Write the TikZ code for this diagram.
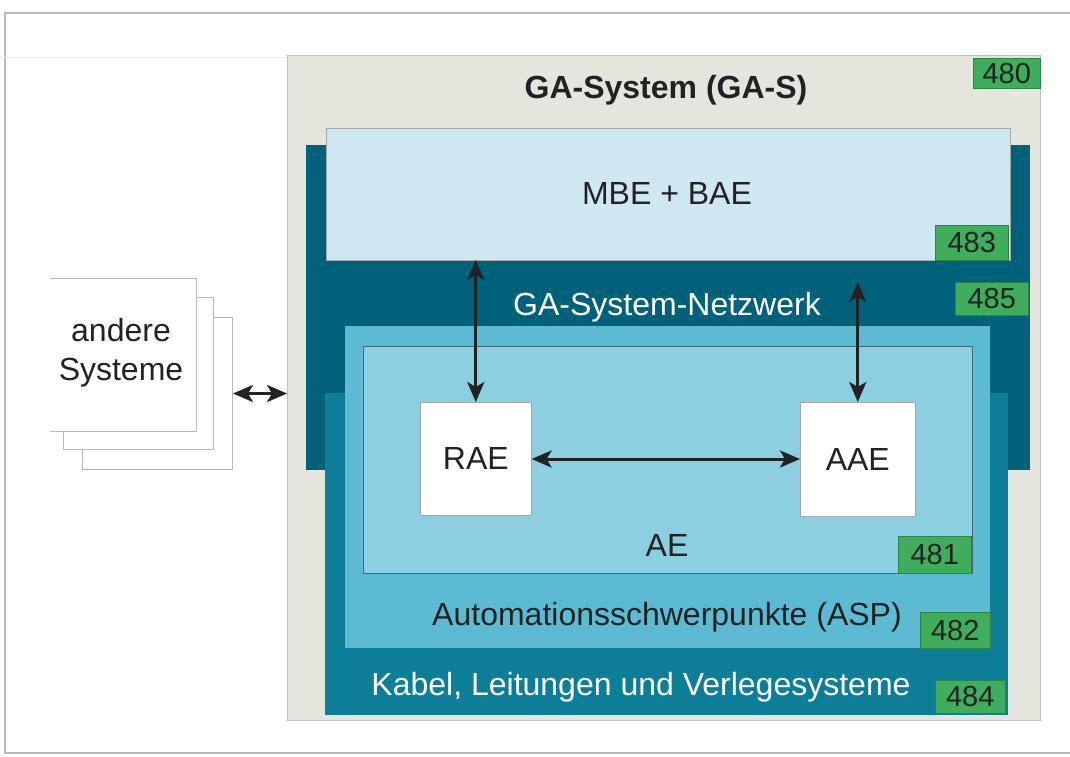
\documentclass[tikz,border=0pt]{standalone}
\usepackage{fontspec}
\setmainfont{Liberation Sans}
\usetikzlibrary{arrows.meta}
\definecolor{gasbg}{HTML}{E4E6DE}
\definecolor{netz}{HTML}{00617A}
\definecolor{kabel}{HTML}{0D7E98}
\definecolor{asp}{HTML}{5CBAD3}
\definecolor{ae}{HTML}{8CCFE1}
\definecolor{mbe}{HTML}{CDE8F1}
\definecolor{tagfill}{HTML}{3FAE5C}
\definecolor{tagline}{HTML}{2C8444}
\definecolor{txt}{HTML}{222222}
\definecolor{frame}{HTML}{B8B8B8}
\begin{document}
\begin{tikzpicture}[x=1pt,y=-1pt,
  layer/.style={anchor=north west, inner sep=0pt, outer sep=0pt, line width=0.6pt},
  tag/.style={anchor=north west, inner sep=0pt, fill=tagfill, draw=tagline, line width=0.6pt,
    font=\fontsize{29}{31}\selectfont, text=txt},
  lbl/.style={font=\fontsize{32}{36}\selectfont, text=txt},
  wlbl/.style={font=\fontsize{32}{36}\selectfont, text=white},
  whitebox/.style={anchor=north west, inner sep=0pt, fill=white, draw=gray!70, line width=0.6pt},
  sheet/.style={anchor=north west, inner sep=0pt, fill=white, draw=frame, line width=1pt},
  arr/.style={{Stealth[length=20pt,width=17pt,inset=5pt]}-{Stealth[length=20pt,width=17pt,inset=5pt]}, line width=3pt, draw=txt}
]
\useasboundingbox (0,0) rectangle (1070,756);
\fill[white] (0,0) rectangle (1070,756);
% outer frame
\draw[frame, line width=1.2pt] (1070,13) -- (5,13) -- (5,753) -- (1070,753);
\draw[orange!20, line width=1pt] (0,57) -- (287,57);

% GA-System
\node[layer, fill=gasbg, draw=gray!50, minimum width=753, minimum height=665] (gas) at (287,55) {};
\node[lbl, font=\bfseries\fontsize{32}{36}\selectfont] (gastitle) at (666,90) {GA-System (GA-S)};
\node[tag, minimum width=67, minimum height=30] (t480) at (973,58) {480};

% Netzwerk
\node[layer, fill=netz, minimum width=724, minimum height=325] (netz) at (306,145) {};
% Kabel
\node[layer, fill=kabel, minimum width=683, minimum height=322] (kab) at (325,393) {};
% MBE
\node[layer, fill=mbe, draw=gray!70, minimum width=684, minimum height=132] (mbe) at (326,128) {};
\node[lbl] (mbetxt) at (667,193) {MBE + BAE};
\node[tag, minimum width=73, minimum height=35] (t483) at (935,225) {483};
\node[wlbl] (netztxt) at (667,307) {GA-System-Netzwerk};
\node[tag, minimum width=73, minimum height=33] (t485) at (955,282) {485};

% ASP
\node[layer, fill=asp, minimum width=645, minimum height=322] (asp) at (345,326) {};
% AE
\node[layer, fill=ae, draw=ae!50!black, minimum width=609, minimum height=227] (aebox) at (363,346) {};
\node[lbl] (aetxt) at (667,545) {AE};
\node[tag, minimum width=73, minimum height=37] (t481) at (898,536) {481};
\node[lbl] (asptxt) at (667,617) {Automationsschwerpunkte (ASP)};
\node[tag, minimum width=70, minimum height=36] (t482) at (920,612) {482};
\node[wlbl] (kabtxt) at (641,687) {Kabel, Leitungen und Verlegesysteme};
\node[tag, minimum width=70, minimum height=33] (t484) at (935,680) {484};

% RAE / AAE
\node[whitebox, minimum width=111, minimum height=113] (rae) at (420,402) {};
\node[lbl] (raetxt) at (rae.center) {RAE};
\node[whitebox, minimum width=115, minimum height=114] (aae) at (800,402) {};
\node[lbl] (aaetxt) at (aae.center) {AAE};

\coordinate (aaetop) at (855,282);
\draw[arr] (rae.north) -- (rae.north |- mbe.south);
\draw[arr] (aae.north) -- (aae.north |- aaetop);
\draw[arr] (rae.east |- 0,459) -- (aae.west |- 0,459);

% andere Systeme sheets
\node[sheet, minimum width=150, minimum height=152] (s3) at (82,317) {};
\node[sheet, minimum width=150, minimum height=152] (s2) at (63,297) {};
\node[sheet, draw=none, minimum width=145, minimum height=152] (s1) at (50,278) {};
\draw[frame, line width=1pt] (s1.north west) -- (s1.north east) -- (s1.south east) -- (s1.south west);
\node[lbl, align=center, font=\fontsize{32}{39}\selectfont] (andtxt) at (121,353) {andere\\Systeme};
\draw[arr] (s3.east) -- (gas.west |- s3.east);
\end{tikzpicture}
\end{document}
